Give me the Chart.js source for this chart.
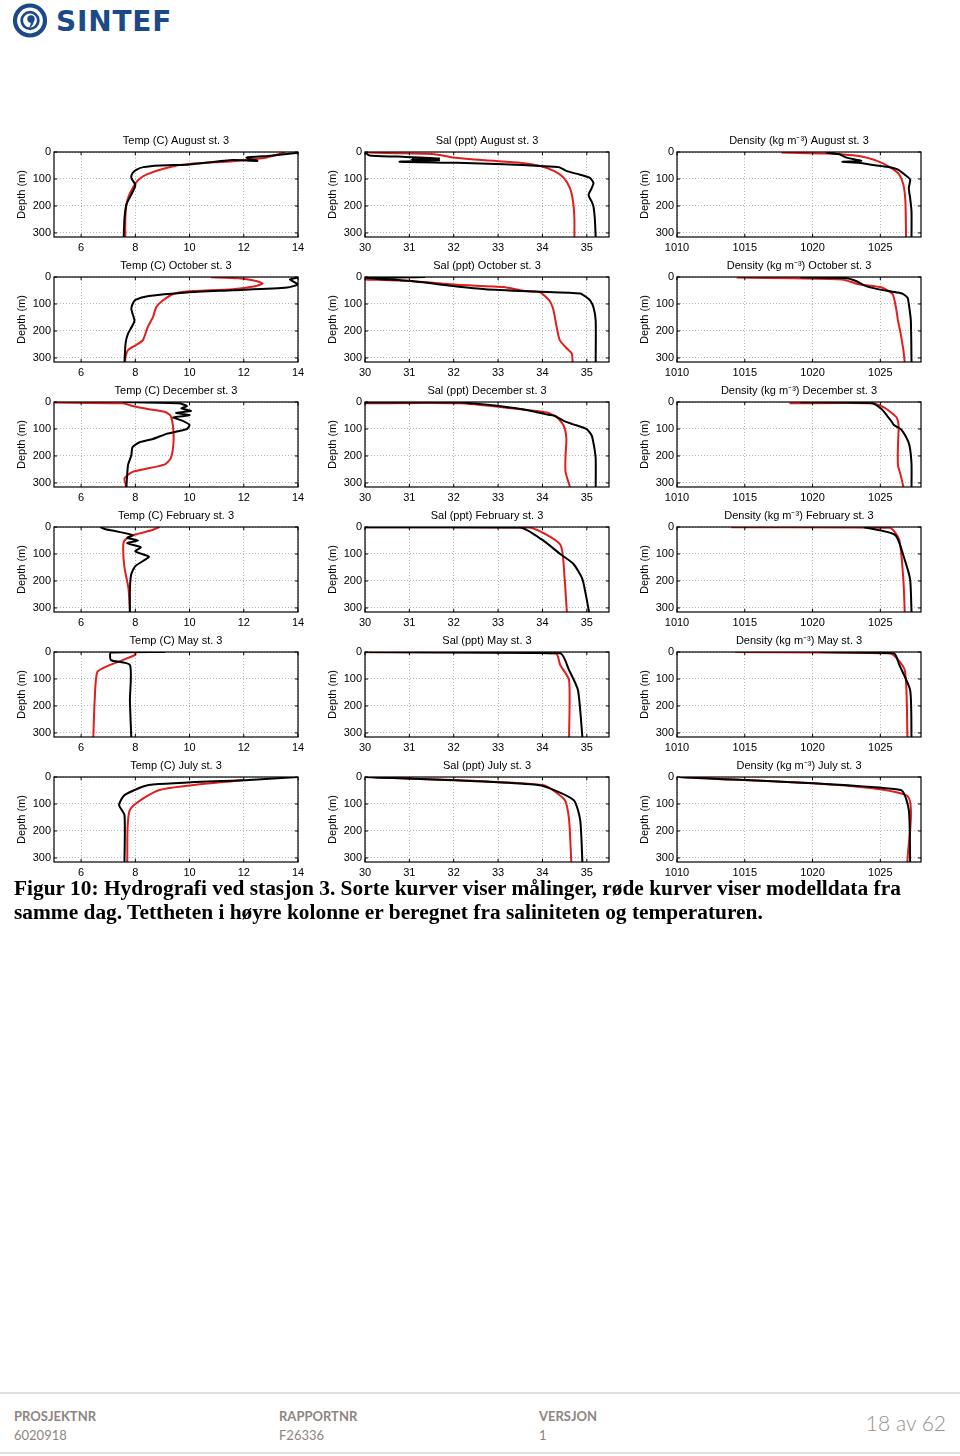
<!DOCTYPE html>
<html lang="no">
<head>
<meta charset="utf-8">
<title>Hydrografi ved stasjon 3</title>
<script src="https://cdn.jsdelivr.net/npm/chart.js@4.4.1/dist/chart.umd.min.js"></script>
<style>
  html, body { margin: 0; padding: 0; background: #fff; }
  #side { position: relative; width: 960px; height: 1456px; overflow: hidden; }
  #logo { position: absolute; left: 11px; top: 2px; }
  .panel { position: absolute; }
  .caption {
    position: absolute; left: 14px; top: 876px;
    font: bold 21.4px "Liberation Serif", "DejaVu Serif", serif;
    line-height: 24px; color: #000; white-space: nowrap;
  }
  .footer-line { position: absolute; left: 0; width: 960px; height: 2px; background: #dedede; }
  .footer-col { position: absolute; top: 1407px; font-family: Lato, "Open Sans", sans-serif; font-size: 13px; color: #8e8682; line-height: 19px; }
  .footer-col b { font-weight: bold; }
  .sidetall { position: absolute; right: 14px; top: 1410px; font-family: Lato, "Open Sans", sans-serif; font-size: 21px; font-weight: 300; color: #9a918d; }
</style>
</head>
<body>
<div id="side">
  <svg id="logo" width="175" height="38" viewBox="0 0 175 38">
    <circle cx="19" cy="18.5" r="15" fill="none" stroke="#1b4a86" stroke-width="4.2"/>
    <circle cx="19" cy="18.5" r="8.3" fill="none" stroke="#1b4a86" stroke-width="2.8"/>
    <circle cx="20" cy="17" r="3.7" fill="#1b4a86"/>
    <path d="M22.6 18.5 Q23 24 17.4 26.2 Q20.5 22.5 19.5 19.5 Z" fill="#1b4a86"/>
    <text x="45" y="28.5" font-family="DejaVu Sans" font-weight="bold" font-size="28" letter-spacing="0.8" fill="#1b4a86">SINTEF</text>
  </svg>

  <div id="figur"></div>

  <div class="caption">Figur 10: Hydrografi ved stasjon 3. Sorte kurver viser målinger, røde kurver viser modelldata fra<br>samme dag. Tettheten i høyre kolonne er beregnet fra saliniteten og temperaturen.</div>

  <div class="footer-line" style="top:1392px"></div>
  <div class="footer-col" style="left:14px"><b>PROSJEKTNR</b><br>6020918</div>
  <div class="footer-col" style="left:279px"><b>RAPPORTNR</b><br>F26336</div>
  <div class="footer-col" style="left:539px"><b>VERSJON</b><br>1</div>
  <div class="sidetall">18 av 62</div>
  <div class="footer-line" style="top:1452px"></div>
</div>

<script>
// Aksemerker
const depthTicks = [0, 100, 200, 300];
const tempTicks = [6, 8, 10, 12, 14];
const salTicks = [30, 31, 32, 33, 34, 35];
const densTicks = [1010, 1015, 1020, 1025];

const maaneder = ['August', 'October', 'December', 'February', 'May', 'July'];

// Profiler: [verdi, dyp (m)]. Obs = maalinger (sort), Mod = modell (rod)
const augTempObs = [[14.0,3],[13.0,14],[12.1,21],[12.5,33],[11.6,30],[10.0,46],[8.9,50],[8.3,56],[8.05,65],[7.9,78],[7.85,95],[7.92,108],[8.0,121],[7.97,133],[7.85,158],[7.67,195],[7.6,246],[7.57,315]];
const augTempMod = [[13.5,0],[13.45,3],[12.8,21],[11.6,34],[10.0,44],[9.14,59],[8.4,84],[8.1,105],[7.9,134],[7.75,165],[7.67,196],[7.63,246],[7.63,315]];
const augSalObs = [[30.0,1],[30.1,13],[30.73,17],[31.67,24],[31.04,27],[31.67,31],[30.78,36],[32.08,40],[33.12,45],[33.95,52],[34.37,56],[34.55,71],[34.85,84],[35.07,96],[35.15,115],[35.11,134],[35.04,159],[35.11,184],[35.15,202],[35.18,246],[35.2,315]];
const augSalMod = [[30.0,1],[30.48,4],[31.56,8],[31.98,20],[32.71,31],[33.5,40],[33.95,52],[34.27,71],[34.48,96],[34.62,134],[34.69,184],[34.72,246],[34.72,315]];
const augDensObs = [[1021.0,2],[1022.0,8],[1022.45,20],[1023.6,33],[1022.2,36],[1023.4,40],[1024.6,49],[1025.5,55],[1026.3,65],[1026.8,84],[1027.2,102],[1027.1,134],[1027.2,171],[1027.3,221],[1027.3,315]];
const augDensMod = [[1017.7,2],[1021.0,6],[1023.4,15],[1024.8,34],[1025.8,59],[1026.4,84],[1026.7,121],[1026.85,184],[1026.9,315]];

const octTempObs = [[14.0,2],[13.7,9],[14.0,27],[13.6,39],[11.6,49],[9.9,57],[8.5,70],[8.0,85],[7.9,100],[7.85,118],[7.9,137],[7.97,161],[7.9,179],[7.73,210],[7.64,246],[7.6,315]];
const octTempMod = [[10.8,1],[11.8,5],[12.46,15],[12.7,24],[12.46,33],[11.6,45],[9.9,54],[9.4,63],[9.0,88],[8.77,112],[8.65,149],[8.46,185],[8.28,234],[8.03,252],[7.73,271],[7.64,295],[7.62,315]];
const octSalObs = [[31.35,0],[30.0,4],[30.52,9],[31.04,15],[31.98,33],[32.71,45],[33.85,54],[34.85,61],[35.0,76],[35.08,88],[35.15,112],[35.2,161],[35.2,315]];
const octSalMod = [[30.0,9],[31.04,15],[32.08,29],[33.12,37],[33.57,51],[33.95,57],[34.16,88],[34.25,124],[34.32,185],[34.39,234],[34.55,265],[34.66,283],[34.68,315]];
const octDensObs = [[1019.1,1],[1022.4,4],[1023.2,15],[1023.9,33],[1024.8,45],[1025.8,54],[1026.6,61],[1027.0,76],[1027.1,100],[1027.25,161],[1027.3,315]];
const octDensMod = [[1014.4,2],[1018.6,5],[1022.2,9],[1023.4,27],[1025.1,39],[1025.9,63],[1026.15,112],[1026.3,161],[1026.5,210],[1026.7,271],[1026.8,315]];

const decTempObs = [[7.54,0],[9.6,5],[9.9,15],[9.7,24],[10.05,33],[9.5,40],[10.0,49],[9.4,57],[9.75,70],[10.0,85],[9.9,100],[9.15,118],[8.65,137],[8.16,149],[7.9,167],[7.85,198],[7.73,234],[7.67,315]];
const decTempMod = [[5.0,2],[7.54,5],[7.9,15],[8.5,27],[9.1,37],[9.3,51],[9.4,100],[9.4,161],[9.3,210],[9.07,232],[7.9,259],[7.6,283],[7.67,315]];
const decSalObs = [[30.0,2],[32.13,2],[33.02,15],[33.75,33],[34.06,45],[34.27,51],[34.48,70],[34.68,82],[34.99,100],[35.11,124],[35.16,161],[35.2,210],[35.2,315]];
const decSalMod = [[30.0,5],[32.13,5],[33.18,21],[34.1,39],[34.33,57],[34.48,88],[34.54,137],[34.52,198],[34.52,259],[34.62,315]];
const decDensObs = [[1019.1,1],[1024.4,5],[1025.1,27],[1025.5,51],[1025.8,70],[1026.0,85],[1026.5,100],[1026.9,130],[1027.15,161],[1027.3,230],[1027.3,315]];
const decDensMod = [[1018.3,5],[1024.4,5],[1025.3,21],[1025.8,39],[1026.2,57],[1026.35,88],[1026.3,161],[1026.3,234],[1026.5,271],[1026.7,315]];

const febTempObs = [[6.7,0],[6.9,8],[7.4,18],[7.9,30],[7.7,40],[8.1,50],[7.7,60],[8.2,75],[8.0,90],[8.5,110],[8.3,125],[8.0,145],[7.85,175],[7.8,230],[7.8,315]];
const febTempMod = [[8.9,0],[8.6,12],[8.0,28],[7.6,50],[7.55,80],[7.6,150],[7.75,230],[7.8,315]];
const febSalObs = [[30.0,1],[33.5,2],[34.0,48],[34.4,100],[34.7,137],[34.9,193],[35.0,270],[35.05,315]];
const febSalMod = [[30.0,1],[33.7,2],[34.4,65],[34.5,193],[34.55,315]];
const febDensObs = [[1023.8,1],[1026.1,30],[1026.8,122],[1027.2,196],[1027.3,315]];
const febDensMod = [[1014.0,1],[1025.7,3],[1026.4,48],[1026.7,196],[1026.8,315]];

const mayTempObs = [[9.1,0],[7.1,2],[7.1,30],[7.8,48],[7.8,180],[7.85,315]];
const mayTempMod = [[8.0,0],[8.0,11],[7.07,48],[6.6,74],[6.5,180],[6.45,315]];
const maySalObs = [[30.1,0],[34.4,5],[34.6,67],[34.8,141],[34.9,315]];
const maySalMod = [[30.0,1],[34.3,5],[34.4,48],[34.6,104],[34.6,315]];
const mayDensObs = [[1020.6,0],[1026.0,5],[1026.4,48],[1027.2,141],[1027.3,315]];
const mayDensMod = [[1014.3,0],[1025.7,5],[1026.8,67],[1027.0,315]];

const julTempObs = [[14.0,0],[12.2,11],[8.5,30],[7.6,67],[7.4,104],[7.6,141],[7.6,315]];
const julTempMod = [[12.0,11],[8.9,48],[7.8,122],[7.7,315]];
const julSalObs = [[30.0,0],[33.9,30],[34.7,85],[34.85,159],[34.9,315]];
const julSalMod = [[30.2,1],[34.0,30],[34.5,85],[34.6,159],[34.65,315]];
const julDensObs = [[1010.2,0],[1026.5,48],[1027.1,122],[1027.2,315]];
const julDensMod = [[1010.2,0],[1026.9,67],[1027.0,315]];

const profiler = [
  [augTempObs, augTempMod, augSalObs, augSalMod, augDensObs, augDensMod],
  [octTempObs, octTempMod, octSalObs, octSalMod, octDensObs, octDensMod],
  [decTempObs, decTempMod, decSalObs, decSalMod, decDensObs, decDensMod],
  [febTempObs, febTempMod, febSalObs, febSalMod, febDensObs, febDensMod],
  [mayTempObs, mayTempMod, maySalObs, maySalMod, mayDensObs, mayDensMod],
  [julTempObs, julTempMod, julSalObs, julSalMod, julDensObs, julDensMod]
];

// Kolonneoppsett (akser)
const kolonner = [
  { navn: 'Temp (C)', min: 5, max: 14, ticks: tempTicks },
  { navn: 'Sal (ppt)', min: 30, max: 35.5, ticks: salTicks },
  { navn: 'Density (kg m\u207B\u00B3)', min: 1010, max: 1028, ticks: densTicks }
];

const plotVenstre = [54, 365, 677];
const plotTopp = [152, 277, 402, 527, 652, 777];
const plotBredde = 244, plotHoyde = 85;
const aksBredde = 50, tittelHoyde = 18, bunnHoyde = 20, hoyreMarg = 12;

Chart.defaults.font.family = '"Liberation Sans", Arial, sans-serif';
Chart.defaults.font.size = 11;
Chart.defaults.color = '#000';

// Ramme rundt plottet
const rammePlugin = {
  id: 'ramme',
  afterDraw(chart) {
    const { ctx, chartArea: a } = chart;
    ctx.save();
    ctx.strokeStyle = '#000';
    ctx.lineWidth = 1.2;
    ctx.strokeRect(a.left, a.top, a.width, a.height);
    // smaa innovervendte aksestreker
    ctx.lineWidth = 1;
    chart.scales.x.ticks.forEach(t => {
      const x = chart.scales.x.getPixelForValue(t.value);
      ctx.beginPath(); ctx.moveTo(x, a.bottom); ctx.lineTo(x, a.bottom - 3); ctx.stroke();
      ctx.beginPath(); ctx.moveTo(x, a.top); ctx.lineTo(x, a.top + 3); ctx.stroke();
    });
    chart.scales.y.ticks.forEach(t => {
      const y = chart.scales.y.getPixelForValue(t.value);
      ctx.beginPath(); ctx.moveTo(a.left, y); ctx.lineTo(a.left + 3, y); ctx.stroke();
      ctx.beginPath(); ctx.moveTo(a.right, y); ctx.lineTo(a.right - 3, y); ctx.stroke();
    });
    ctx.restore();
  }
};

function tilPunkter(liste) {
  return liste.map(p => ({ x: p[0], y: p[1] }));
}

function lagPanel(rad, kol) {
  const cfg = kolonner[kol];
  const obs = profiler[rad][kol * 2];
  const mod = profiler[rad][kol * 2 + 1];

  const canvas = document.createElement('canvas');
  const w = aksBredde + plotBredde + hoyreMarg;
  const h = tittelHoyde + plotHoyde + bunnHoyde;
  canvas.width = w;
  canvas.height = h;
  canvas.className = 'panel';
  canvas.style.left = (plotVenstre[kol] - aksBredde) + 'px';
  canvas.style.top = (plotTopp[rad] - tittelHoyde) + 'px';
  canvas.style.width = w + 'px';
  canvas.style.height = h + 'px';
  document.getElementById('figur').appendChild(canvas);

  new Chart(canvas, {
    type: 'scatter',
    data: {
      datasets: [
        { data: tilPunkter(obs), showLine: true, borderColor: '#000', borderWidth: 2, pointRadius: 0, tension: 0.2 },
        { data: tilPunkter(mod), showLine: true, borderColor: '#e11d1d', borderWidth: 2, pointRadius: 0, tension: 0.2 }
      ]
    },
    options: {
      responsive: false,
      animation: false,
      events: [],
      layout: { padding: { top: 0, right: hoyreMarg, bottom: 0, left: 0 } },
      plugins: {
        legend: { display: false },
        tooltip: { enabled: false },
        title: {
          display: true,
          fullSize: false,
          text: cfg.navn + ' ' + maaneder[rad] + ' st. 3',
          font: { size: 11, weight: 'normal', lineHeight: 1 },
          color: '#000',
          padding: { top: 1, bottom: 6 }
        }
      },
      scales: {
        x: {
          type: 'linear',
          min: cfg.min,
          max: cfg.max,
          afterBuildTicks: s => { s.ticks = cfg.ticks.map(v => ({ value: v })); },
          afterFit: s => { s.height = bunnHoyde; s.paddingLeft = 0; s.paddingRight = 0; },
          grid: { color: '#b5b5b5', lineWidth: 1, drawTicks: false },
          border: { display: false, dash: [1, 2] },
          ticks: { padding: 4, maxRotation: 0, autoSkip: false, callback: v => String(v) }
        },
        y: {
          type: 'linear',
          reverse: true,
          min: 0,
          max: 315,
          afterBuildTicks: s => { s.ticks = depthTicks.map(v => ({ value: v })); },
          afterFit: s => { s.width = aksBredde; s.paddingTop = 0; s.paddingBottom = 0; },
          grid: { color: '#b5b5b5', lineWidth: 1, drawTicks: false },
          border: { display: false, dash: [1, 2] },
          ticks: { padding: 3, autoSkip: false, callback: v => String(v) },
          title: { display: true, text: 'Depth (m)', font: { size: 11 }, color: '#000', padding: { top: 11, bottom: 0 } }
        }
      }
    },
    plugins: [rammePlugin]
  });
}

function tegnFigur() {
  maaneder.forEach((m, rad) => {
    kolonner.forEach((k, kol) => lagPanel(rad, kol));
  });
}

document.addEventListener('DOMContentLoaded', tegnFigur);
</script>
</body>
</html>
